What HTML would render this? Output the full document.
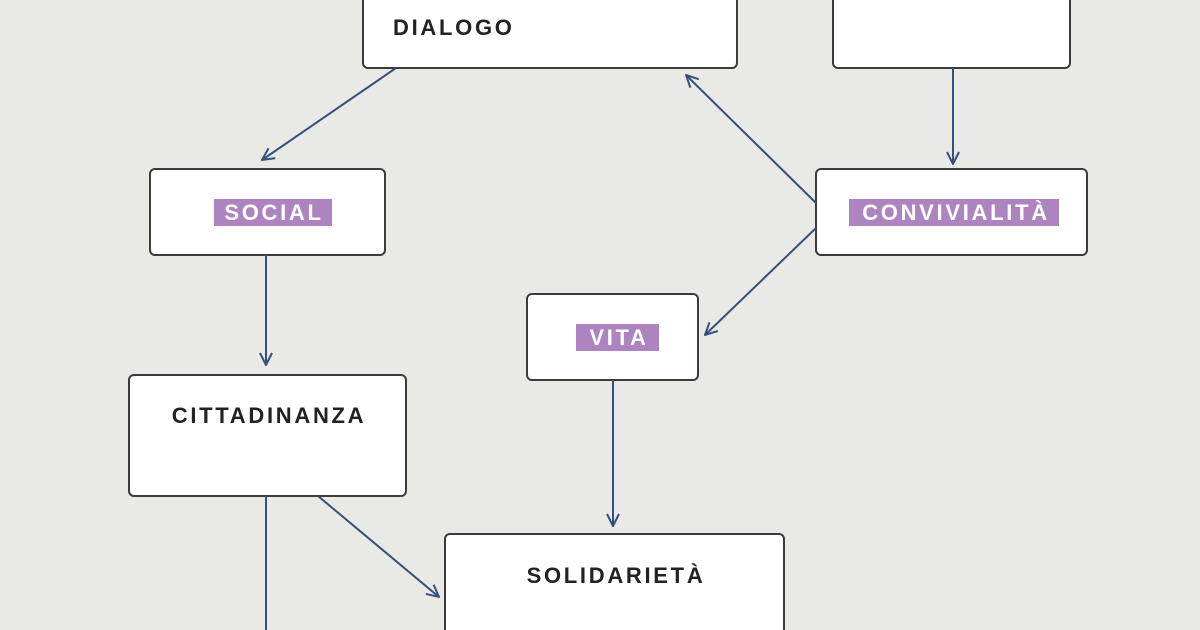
<!DOCTYPE html>
<html><head><meta charset="utf-8"><style>
html,body{margin:0;padding:0;background:#e9e9e5;}
svg{display:block}
text{font-family:"Liberation Sans","DejaVu Sans",sans-serif;font-size:22px;letter-spacing:2.7px;font-weight:600}
</style></head><body>
<svg width="1200" height="630" viewBox="0 0 1200 630" xmlns="http://www.w3.org/2000/svg">
<defs>
<marker id="a" viewBox="0 0 14 14" refX="13" refY="7" markerWidth="14" markerHeight="14" markerUnits="userSpaceOnUse" orient="auto">
<path d="M1,1 L13,7 L1,13" fill="none" stroke="#34507e" stroke-width="2"/>
</marker>
</defs>
<g fill="#fff" stroke="#3b3b3b" stroke-width="2">
<rect x="363" y="-20" width="374" height="88" rx="5"/>
<rect x="833" y="-20" width="237" height="88" rx="5"/>
<rect x="150" y="169" width="235" height="86" rx="5"/>
<rect x="816" y="169" width="271" height="86" rx="5"/>
<rect x="527" y="294" width="171" height="86" rx="5"/>
<rect x="129" y="375" width="277" height="121" rx="5"/>
<rect x="445" y="534" width="339" height="120" rx="5"/>
</g>
<g stroke="#34507e" stroke-width="2" fill="none" marker-end="url(#a)">
<line x1="396" y1="68" x2="262" y2="160"/>
<line x1="953" y1="68" x2="953" y2="164"/>
<line x1="816" y1="203" x2="686" y2="75"/>
<line x1="816" y1="228" x2="705" y2="335"/>
<line x1="266" y1="255" x2="266" y2="365"/>
<line x1="613" y1="380" x2="613" y2="526"/>
<line x1="318" y1="496" x2="439" y2="597"/>
</g>
<line x1="266" y1="496" x2="266" y2="630" stroke="#34507e" stroke-width="2"/>
<g fill="#ad84c0">
<rect x="214" y="199" width="118" height="27"/>
<rect x="849" y="199" width="210" height="27"/>
<rect x="576" y="324" width="83" height="27"/>
</g>
<g fill="#fff" text-anchor="middle">
<text x="274" y="220">SOCIAL</text>
<text x="956" y="220">CONVIVIALITÀ</text>
<text x="619" y="345">VITA</text>
</g>
<g fill="#222">
<text x="393" y="35">DIALOGO</text>
<text x="269" y="423" text-anchor="middle">CITTADINANZA</text>
<text x="616" y="583" text-anchor="middle">SOLIDARIETÀ</text>
</g>
</svg>
</body></html>
